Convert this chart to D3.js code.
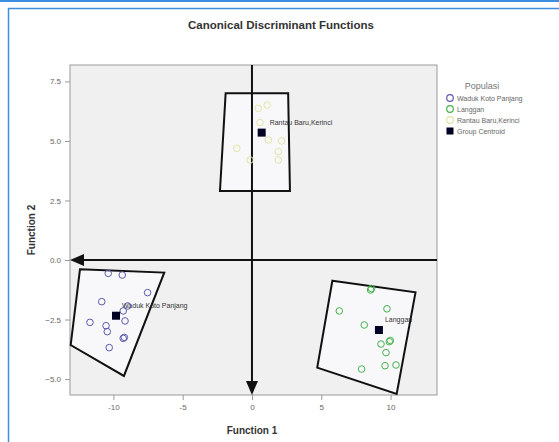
<!DOCTYPE html>
<html>
<head>
<meta charset="utf-8">
<script src="https://cdn.jsdelivr.net/npm/d3@7"></script>
<style>
  html, body { margin: 0; padding: 0; background: #fff; }
  svg { display: block; font-family: "Liberation Sans", Arial, sans-serif; }
</style>
</head>
<body>
<script>
/* DATA */
var title      = 'Canonical Discriminant Functions',
    xTitle     = 'Function 1',
    yTitle     = 'Function 2',
    legendHead = 'Populasi';

var groups    = ['Waduk Koto Panjang', 'Langgan', 'Rantau Baru,Kerinci'];
var xTicks    = [-10, -5, 0, 5, 10];
var yTicks    = [-5, -2.5, 0, 2.5, 5, 7.5];

var wadukPts = [[-10.37,-0.56],[-9.36,-0.63],[-7.53,-1.37],[-10.84,-1.75],[-8.97,-1.93],
                [-9.29,-2.14],[-9.16,-2.56],[-11.69,-2.62],[-10.53,-2.76],[-10.44,-3.01],
                [-9.21,-3.25],[-9.29,-3.29],[-10.30,-3.68]];
var langganPts = [[8.56,-1.26],[8.62,-1.20],[6.30,-2.14],[9.74,-2.05],[8.10,-2.73],
                  [9.91,-3.43],[9.98,-3.38],[9.31,-3.53],[9.67,-3.89],[9.60,-4.44],
                  [10.39,-4.41],[7.91,-4.58]];
var rantauPts = [[0.45,6.37],[1.10,6.51],[0.58,5.77],[2.14,5.00],[-1.10,4.69],
                 [1.90,4.55],[1.90,4.20],[-0.14,4.20],[1.18,5.04]];

var centroids = [[-9.81,-2.34],[9.16,-2.94],[0.70,5.35]];

// territory outlines
var wadukHull   = [[-12.41,-0.39],[-6.33,-0.53],[-9.24,-4.87],[-13.08,-3.57]];
var langganHull = [[5.80,-0.87],[11.80,-1.36],[10.44,-5.63],[4.71,-4.52]];
var rantauHull  = [[-1.90,7.00],[2.61,7.00],[2.74,2.90],[-2.31,2.90]];

/* STYLE */
var W = 559, H = 442;
var plot = { left: 70, right: 437, top: 65, bottom: 395 };
var c = {
  frame:   '#3d8ee0',
  plotBg:  '#f0f0f0',
  hullBg:  '#f8f8fb',
  axis:    '#9a9a9a',
  tick:    '#666',
  groups:  ['#5a5aae', '#45b24c', '#dfe6a4'],
  centroid:'#000022'
};

var svg = d3.select('body').append('svg')
  .attr('width', W).attr('height', H);

/* FRAME */
svg.append('rect').attr('x', 0).attr('y', 0).attr('width', W).attr('height', 2).attr('fill', c.frame);
svg.append('path').attr('d', 'M8.5,' + H + 'V8.5H' + W)
  .attr('fill', 'none').attr('stroke', c.frame).attr('stroke-width', 1.5);

/* SCALES */
var x = d3.scaleLinear().domain([-13.13, 13.35]).range([plot.left, plot.right]);
var y = d3.scaleLinear().domain([-5.67, 8.19]).range([plot.bottom, plot.top]);

svg.append('rect')
  .attr('x', plot.left).attr('y', plot.top)
  .attr('width', plot.right - plot.left).attr('height', plot.bottom - plot.top)
  .attr('fill', c.plotBg).attr('stroke', c.axis).attr('stroke-width', 1);

/* AXES */
var xAxis = svg.append('g')
  .attr('transform', 'translate(0,' + plot.bottom + ')')
  .call(d3.axisBottom(x).tickValues(xTicks).tickSize(5).tickPadding(4)
        .tickFormat(function(d){ return d; }));
var yAxis = svg.append('g')
  .attr('transform', 'translate(' + plot.left + ',0)')
  .call(d3.axisLeft(y).tickValues(yTicks).tickSize(5).tickPadding(4)
        .tickFormat(d3.format('.1f')));
[xAxis, yAxis].forEach(function(a){
  a.select('.domain').remove();
  a.selectAll('line').attr('stroke', c.axis);
  a.selectAll('text').attr('fill', c.tick).style('font-size', '8px');
});

svg.append('text').attr('x', 281).attr('y', 29)
  .attr('text-anchor', 'middle').style('font-size', '11.5px').style('font-weight', 'bold')
  .attr('fill', '#333').text(title);
svg.append('text').attr('x', x(0)).attr('y', 434)
  .attr('text-anchor', 'middle').style('font-size', '10px').style('font-weight', 'bold')
  .attr('fill', '#333').text(xTitle);
svg.append('text').attr('transform', 'translate(35,' + ((plot.top + plot.bottom) / 2) + ') rotate(-90)')
  .attr('text-anchor', 'middle').style('font-size', '10px').style('font-weight', 'bold')
  .attr('fill', '#333').text(yTitle);

/* TERRITORIES */
var line = d3.line().x(function(d){ return x(d[0]); }).y(function(d){ return y(d[1]); })
  .curve(d3.curveLinearClosed);
[wadukHull, langganHull, rantauHull].forEach(function(h){
  svg.append('path').attr('d', line(h))
    .attr('fill', c.hullBg).attr('stroke', '#111').attr('stroke-width', 2);
});

/* ARROWS */
svg.append('line')
  .attr('x1', x(0)).attr('x2', x(0)).attr('y1', plot.top).attr('y2', plot.bottom - 12)
  .attr('stroke', '#111').attr('stroke-width', 2);
svg.append('path')
  .attr('d', 'M' + (x(0) - 6) + ',' + (plot.bottom - 14) + 'L' + (x(0) + 6) + ',' + (plot.bottom - 14) +
             'L' + x(0) + ',' + plot.bottom + 'Z')
  .attr('fill', '#111');
svg.append('line')
  .attr('x1', plot.right).attr('x2', plot.left + 12).attr('y1', y(0)).attr('y2', y(0))
  .attr('stroke', '#111').attr('stroke-width', 2);
svg.append('path')
  .attr('d', 'M' + (plot.left + 14) + ',' + (y(0) - 6) + 'L' + (plot.left + 14) + ',' + (y(0) + 6) +
             'L' + plot.left + ',' + y(0) + 'Z')
  .attr('fill', '#111');

/* CENTROID LABELS (drawn under the points) */
var labelOff = [[6, -8], [6, -8], [8, -8]];
svg.append('g').selectAll('text').data(centroids).enter().append('text')
  .attr('x', function(d, i){ return x(d[0]) + labelOff[i][0]; })
  .attr('y', function(d, i){ return y(d[1]) + labelOff[i][1]; })
  .style('font-size', '7px').attr('fill', '#333')
  .text(function(d, i){ return groups[i]; });

/* POINTS */
[wadukPts, langganPts, rantauPts].forEach(function(pts, i){
  svg.append('g').selectAll('circle').data(pts).enter().append('circle')
    .attr('cx', function(d){ return x(d[0]); })
    .attr('cy', function(d){ return y(d[1]); })
    .attr('r', 3.3)
    .attr('fill', 'none')
    .attr('stroke', c.groups[i]).attr('stroke-width', 1);
});

/* CENTROIDS */
svg.append('g').selectAll('rect').data(centroids).enter().append('rect')
  .attr('x', function(d){ return x(d[0]) - 4; })
  .attr('y', function(d){ return y(d[1]) - 4; })
  .attr('width', 8).attr('height', 8)
  .attr('fill', c.centroid);

/* LEGEND */
var lg = svg.append('g');
lg.append('text').attr('x', 482).attr('y', 89).attr('text-anchor', 'middle')
  .style('font-size', '9px').attr('fill', '#777').text(legendHead);
var rows = groups.concat(['Group Centroid']);
rows.forEach(function(r, i){
  var yy = 98 + i * 11;
  if (i < 3) {
    lg.append('circle').attr('cx', 450).attr('cy', yy).attr('r', 3.3)
      .attr('fill', 'none').attr('stroke', c.groups[i]).attr('stroke-width', 1.2);
  } else {
    lg.append('rect').attr('x', 446.5).attr('y', yy - 3.5).attr('width', 7).attr('height', 7)
      .attr('fill', c.centroid);
  }
  lg.append('text').attr('x', 457).attr('y', yy + 2.5)
    .style('font-size', '7px').attr('fill', '#666').text(r);
});
</script>
</body>
</html>
